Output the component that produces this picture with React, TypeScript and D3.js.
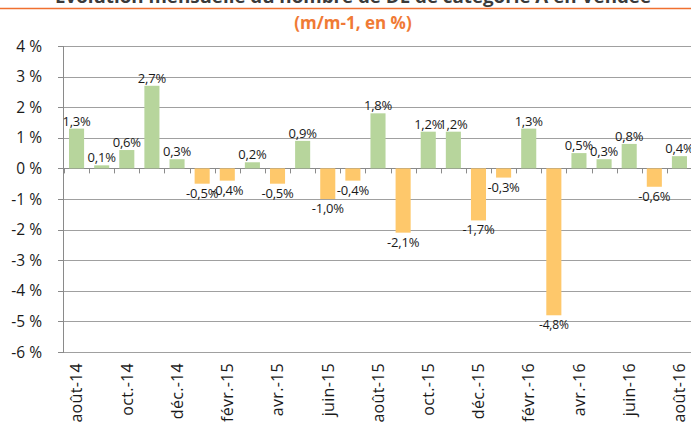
import React, { useEffect, useRef } from "react";
import * as d3 from "d3";

// monthly change of job seekers, cat. A, Vendée (m/m-1, %)
const months = [
  "août-14", "sept.-14", "oct.-14", "nov.-14", "déc.-14",
  "janv.-15", "févr.-15", "mars-15", "avr.-15", "mai-15", "juin-15", "juil.-15",
  "août-15", "sept.-15", "oct.-15", "nov.-15", "déc.-15",
  "janv.-16", "févr.-16", "mars-16", "avr.-16", "mai-16", "juin-16", "juil.-16", "août-16",
];
const values = [
  1.3, 0.1, 0.6, 2.7, 0.3,
  -0.5, -0.4, 0.2, -0.5, 0.9, -1.0, -0.4,
  1.8, -2.1, 1.2, 1.2, -1.7,
  -0.3, 1.3, -4.8, 0.5, 0.3, 0.8, -0.6, 0.4,
];
const yTicks = [4, 3, 2, 1, 0, -1, -2, -3, -4, -5, -6];

const title = "Evolution mensuelle du nombre de DE de catégorie A en Vendée";
const subtitle = "(m/m-1, en %)";

export default function App() {
  const ref = useRef<SVGSVGElement>(null);

  useEffect(() => {
    const svg = d3.select(ref.current);
    svg.selectAll("*").remove();

    const W = 691, left = 64, right = 692;
    const font = "'Open Sans', 'DejaVu Sans', sans-serif";

    const x = d3.scaleBand<string>().domain(months).range([left, right])
      .paddingInner(0.4).paddingOuter(0.2);
    const y = d3.scaleLinear().domain([-6, 4]).range([352, 46]);
    const gap = (x.step() - x.bandwidth()) / 2;

    // title block
    svg.append("text")
      .attr("x", 353).attr("y", 3)
      .attr("text-anchor", "middle")
      .attr("font-family", font).attr("font-weight", "bold").attr("font-size", 17)
      .attr("fill", "#3a3a3a")
      .attr("textLength", 596).attr("lengthAdjust", "spacingAndGlyphs")
      .text(title);
    svg.append("line")
      .attr("x1", 0).attr("x2", W).attr("y1", 8.5).attr("y2", 8.5)
      .attr("stroke", "#f07030").attr("stroke-width", 1.5);
    svg.append("text")
      .attr("x", 353).attr("y", 29)
      .attr("text-anchor", "middle")
      .attr("font-family", font).attr("font-weight", "bold").attr("font-size", 17)
      .attr("fill", "#f07a35")
      .text(subtitle);

    // gridlines
    svg.append("g").selectAll("line")
      .data(yTicks)
      .enter().append("line")
      .attr("x1", left - 1).attr("x2", W)
      .attr("y1", (d) => Math.round(y(d)) + 0.5)
      .attr("y2", (d) => Math.round(y(d)) + 0.5)
      .attr("stroke", (d) => (d === 0 ? "#8a8a8a" : "#a0a0a0"))
      .attr("stroke-width", 1);

    // y axis
    const ya = svg.append("g");
    ya.append("line")
      .attr("x1", left - 0.5).attr("x2", left - 0.5)
      .attr("y1", y(4)).attr("y2", y(-6))
      .attr("stroke", "#8a8a8a");
    ya.selectAll("line.tk")
      .data(yTicks)
      .enter().append("line").attr("class", "tk")
      .attr("x1", left - 6).attr("x2", left)
      .attr("y1", (d) => Math.round(y(d)) + 0.5)
      .attr("y2", (d) => Math.round(y(d)) + 0.5)
      .attr("stroke", "#8a8a8a");
    ya.selectAll("text")
      .data(yTicks)
      .enter().append("text")
      .attr("x", 42).attr("y", (d) => y(d))
      .attr("dy", "0.36em")
      .attr("text-anchor", "end")
      .attr("font-family", font).attr("font-size", 15.5)
      .attr("fill", "#1a1a1a")
      .text((d) => d + " %");

    // category ticks on the zero line
    svg.append("g").selectAll("line")
      .data(months)
      .enter().append("line")
      .attr("x1", (d) => Math.round(x(d)! - gap) + 0.5)
      .attr("x2", (d) => Math.round(x(d)! - gap) + 0.5)
      .attr("y1", y(0)).attr("y2", y(0) + 5)
      .attr("stroke", "#8a8a8a");

    // bars
    const data = months.map((m, i) => ({ m, v: values[i] }));
    svg.append("g").selectAll("rect")
      .data(data)
      .enter().append("rect")
      .attr("x", (d) => x(d.m)!)
      .attr("width", x.bandwidth())
      .attr("y", (d) => y(Math.max(0, d.v)))
      .attr("height", (d) => Math.abs(y(d.v) - y(0)))
      .attr("fill", (d) => (d.v >= 0 ? "#b7d59c" : "#fec86b"));

    // value labels
    const fmt = (v: number) => d3.format(".1f")(v).replace(".", ",").replace("−", "-") + "%";
    svg.append("g").selectAll("text")
      .data(data)
      .enter().append("text")
      .attr("x", (d) => x(d.m)! + x.bandwidth() / 2)
      .attr("y", (d) => (d.v >= 0 ? y(d.v) - 3 : y(d.v) + 14))
      .attr("text-anchor", "middle")
      .attr("font-family", font)
      .attr("font-size", (d) => (d.v < -4 ? 12 : 13))
      .attr("letter-spacing", -0.2)
      .attr("fill", "#1a1a1a")
      .text((d) => fmt(d.v));

    // x labels, every other month
    svg.append("g").selectAll("text")
      .data(months.filter((_, i) => i % 2 === 0))
      .enter().append("text")
      .attr("transform", (d) => `translate(${x(d)! + x.bandwidth() / 2},363) rotate(-90)`)
      .attr("dy", "0.36em")
      .attr("text-anchor", "end")
      .attr("font-family", font).attr("font-size", 16)
      .attr("letter-spacing", 0.3)
      .attr("fill", "#1a1a1a")
      .text((d) => d);
  }, []);

  return (
    <svg ref={ref} width={691} height={425}
      style={{ position: "absolute", left: 0, top: 0, background: "#fff" }} />
  );
}
